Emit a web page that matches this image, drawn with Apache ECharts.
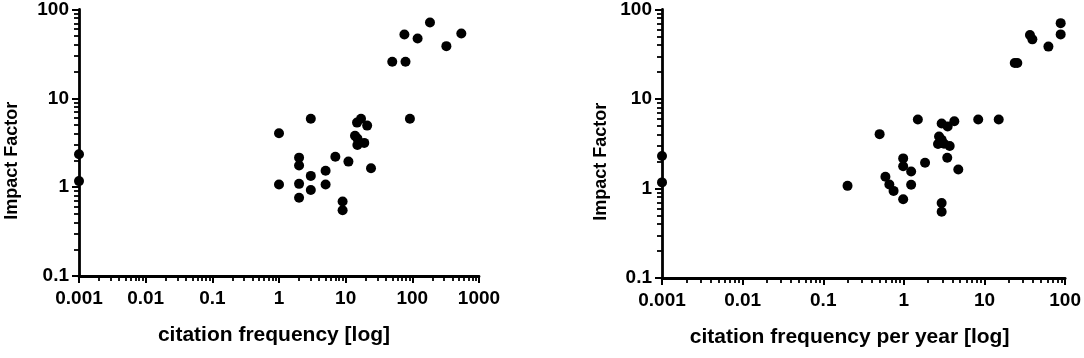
<!DOCTYPE html>
<html>
<head>
<meta charset="utf-8">
<script src="https://cdn.jsdelivr.net/npm/echarts@6/dist/echarts.min.js"></script>
<style>
  html, body { margin: 0; padding: 0; background: #fff; }
  #chart { width: 1084px; height: 358px; }
</style>
</head>
<body>
<div id="chart"></div>
<script>
// left panel: citation frequency vs impact factor
const citationFrequency = [0.001, 0.001, 1, 1, 2, 2, 2, 2, 3, 3, 3, 5, 5, 7, 9, 9, 11, 13.8, 14.8, 15, 15, 17, 19, 21, 24, 50, 76, 79, 92, 120, 184, 324, 543];
const impactFactorLeft = [2.35, 1.17, 4.05, 1.07, 2.15, 1.75, 1.09, 0.76, 5.9, 1.34, 0.93, 1.53, 1.07, 2.2, 0.69, 0.55, 1.94, 3.8, 5.33, 3.52, 2.99, 5.9, 3.15, 4.93, 1.63, 25.8, 52.4, 25.8, 5.9, 47.2, 71.4, 38.7, 53.7];

// right panel: citation frequency per year vs impact factor
const citationPerYear = [0.001, 0.001, 0.2, 0.5, 0.59, 0.66, 0.745, 0.98, 0.98, 0.98, 1.23, 1.23, 1.49, 1.83, 2.65, 2.73, 2.94, 2.94, 2.94, 2.94, 3.15, 3.49, 3.45, 3.7, 4.22, 4.73, 8.35, 15, 23.7, 25.5, 36.6, 39.2, 62, 88, 88];
const impactFactorRight = [2.31, 1.17, 1.07, 4.05, 1.35, 1.11, 0.94, 2.17, 1.77, 0.76, 1.55, 1.1, 5.9, 1.94, 3.14, 3.81, 5.32, 3.5, 0.69, 0.55, 3.16, 4.93, 2.21, 2.98, 5.65, 1.63, 5.9, 5.9, 25.3, 25.3, 51.9, 46.4, 38.5, 70.4, 52.7];

const xTicksLeft = [0.001, 0.01, 0.1, 1, 10, 100, 1000];
const xTicksRight = [0.001, 0.01, 0.1, 1, 10, 100];
const yTicks = [0.1, 1, 10, 100];

// 2..9 between each pair of decades
function minorTicks(decades) {
  const out = [];
  for (let i = 0; i < decades.length - 1; i++) {
    for (let m = 2; m <= 9; m++) {
      out.push(Number((decades[i] * m).toPrecision(3)));
    }
  }
  return out;
}

const font = 'Arial, "Liberation Sans", sans-serif';
const labelStyle = { color: '#000', fontFamily: font, fontWeight: 'bold', fontSize: 19 };

function mainX(gridIndex, ticks, name, namePad) {
  return {
    type: 'log',
    gridIndex,
    position: 'bottom',
    min: ticks[0],
    max: ticks[ticks.length - 1],
    name,
    nameLocation: 'middle',
    nameGap: 49,
    nameTextStyle: { ...labelStyle, fontSize: 21, padding: [0, namePad, 0, 0] },
    axisLine: { onZero: false, lineStyle: { color: '#000', width: 2.8 } },
    axisTick: { customValues: ticks, length: 7, lineStyle: { color: '#000', width: 2 } },
    axisLabel: { customValues: ticks, margin: 13, ...labelStyle, formatter: (v) => String(v) },
    splitLine: { show: false },
  };
}

function minorX(gridIndex, ticks) {
  return {
    type: 'log',
    gridIndex,
    position: 'bottom',
    min: ticks[0],
    max: ticks[ticks.length - 1],
    axisLine: { show: false, onZero: false },
    axisTick: { customValues: minorTicks(ticks), length: 5, lineStyle: { color: '#000', width: 1.8 } },
    axisLabel: { show: false },
    splitLine: { show: false },
  };
}

function mainY(gridIndex, nameGap) {
  return {
    type: 'log',
    gridIndex,
    position: 'left',
    min: yTicks[0],
    max: yTicks[yTicks.length - 1],
    name: 'Impact Factor',
    nameLocation: 'middle',
    nameRotate: 90,
    nameGap,
    nameTextStyle: { ...labelStyle, fontSize: 18, padding: [0, 36, 0, 0] },
    axisLine: { onZero: false, lineStyle: { color: '#000', width: 2.8 } },
    axisTick: { customValues: yTicks, length: 7, lineStyle: { color: '#000', width: 2 } },
    axisLabel: { customValues: yTicks, margin: 10, ...labelStyle, formatter: (v) => String(v) },
    splitLine: { show: false },
  };
}

function minorY(gridIndex) {
  return {
    type: 'log',
    gridIndex,
    position: 'left',
    min: yTicks[0],
    max: yTicks[yTicks.length - 1],
    axisLine: { show: false, onZero: false },
    axisTick: { customValues: minorTicks(yTicks), length: 5, lineStyle: { color: '#000', width: 1.8 } },
    axisLabel: { show: false },
    splitLine: { show: false },
  };
}

const chart = echarts.init(document.getElementById('chart'), null, { renderer: 'canvas' });
chart.setOption({
  animation: false,
  backgroundColor: '#fff',
  grid: [
    { left: 79, top: 8, width: 400, height: 268 },
    { left: 662, top: 8, width: 405, height: 270 },
  ],
  xAxis: [
    mainX(0, xTicksLeft, 'citation frequency [log]', 10),
    minorX(0, xTicksLeft),
    mainX(1, xTicksRight, 'citation frequency per year [log]', 28),
    minorX(1, xTicksRight),
  ],
  yAxis: [
    mainY(0, 58),
    minorY(0),
    mainY(1, 52),
    minorY(1),
  ],
  series: [
    {
      type: 'scatter',
      xAxisIndex: 0,
      yAxisIndex: 0,
      symbolSize: 10,
      itemStyle: { color: '#000', opacity: 1 },
      data: citationFrequency.map((x, i) => [x, impactFactorLeft[i]]),
    },
    {
      type: 'scatter',
      xAxisIndex: 2,
      yAxisIndex: 2,
      symbolSize: 10,
      itemStyle: { color: '#000', opacity: 1 },
      data: citationPerYear.map((x, i) => [x, impactFactorRight[i]]),
    },
  ],
});
</script>
</body>
</html>
